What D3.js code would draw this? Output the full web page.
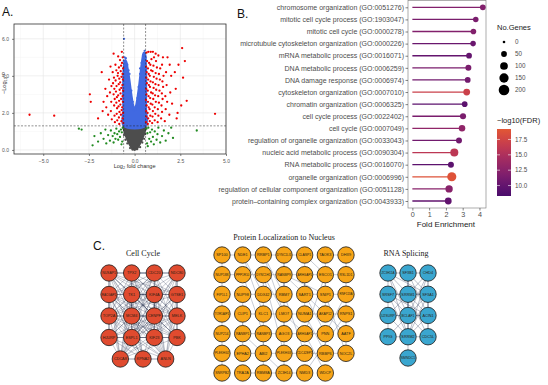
<!DOCTYPE html>
<html>
<head>
<meta charset="utf-8">
<script src="https://cdn.jsdelivr.net/npm/d3@7"></script>
<style>
  body { margin: 0; background: #fff; }
  svg { display: block; font-family: "Liberation Sans", Arial, sans-serif; }
</style>
</head>
<body>
<div id="figure"></div>
<script>
// ---------------- panel A : volcano ----------------
const fcCutoff = 0.6;
const pCutoff = 1.3;
const volcanoXTicks = [-5, -2.5, 0, 2.5, 5];
const volcanoYTicks = [0, 2, 4, 6];

// outlines of the two clouds that are too dense to show as single dots
const blueCloud = [[-0.6,1.3],[-0.62,2.2],[-0.63,3.2],[-0.62,4.1],[-0.58,4.6],[-0.52,4.85],[-0.45,4.75],[-0.38,4.4],[-0.3,3.9],[-0.22,3.3],[-0.14,2.75],[-0.06,2.35],[0.02,2.25],[0.1,2.5],[0.18,3.0],[0.26,3.6],[0.34,4.3],[0.42,4.9],[0.5,5.25],[0.57,5.2],[0.62,4.6],[0.63,3.5],[0.62,2.3],[0.6,1.3]];
const greyCloud = [[-0.6,1.3],[-0.56,1.0],[-0.46,0.7],[-0.34,0.42],[-0.22,0.2],[-0.1,0.05],[0,0],[0.1,0.05],[0.22,0.2],[0.34,0.42],[0.46,0.7],[0.56,1.0],[0.6,1.3]];

const bluePoints = [[-0.58,6.0],[-0.55,5.0],[-0.48,4.95],[-0.6,4.8],[-0.4,4.6],[-0.28,4.1],[-0.18,3.2],[-0.1,2.6],[0.05,2.2],[0.15,2.8],[0.22,3.4],[0.3,4.1],[0.38,4.7],[0.46,5.1],[0.55,5.35],[0.6,5.0],[0.3,4.4],[-0.33,4.3],[-0.05,2.15],[0.08,2.35]];
const greyPoints = [[-0.58,0.8],[-0.5,0.55],[0.52,0.6],[0.58,0.85],[-0.4,0.35],[0.42,0.4],[-0.25,0.1],[0.3,0.15],[-0.12,0.02],[0.14,0.04]];
const greenPoints = [[-0.65,1.2],[-0.7,0.95],[-0.75,1.1],[-0.8,0.7],[-0.85,1.0],[-0.9,0.55],[-0.95,0.85],[-1.0,1.15],[-1.05,0.6],[-1.1,0.9],[-1.15,0.4],[-1.2,0.75],[-1.3,1.05],[-1.35,0.5],[-1.45,0.8],[-1.55,0.35],[-1.6,1.1],[-1.7,0.6],[-1.85,0.9],[-2.0,0.45],[-2.2,0.75],[-2.3,0.25],[-2.9,1.1],[-3.05,1.15],[-0.68,0.45],[-0.72,0.3],
  [0.65,1.15],[0.7,0.9],[0.75,1.2],[0.8,0.6],[0.85,0.95],[0.9,0.45],[0.95,1.1],[1.0,0.7],[1.05,0.3],[1.1,1.0],[1.2,0.55],[1.25,0.85],[1.3,1.2],[1.4,0.4],[1.5,0.75],[1.6,1.05],[1.7,0.5],[1.85,0.9],[2.0,1.2],[2.1,0.65],[3.4,1.05],[0.68,0.35],[0.72,0.2]];
const redPoints = [
  [-0.62,1.45],[-0.65,1.7],[-0.63,2.0],[-0.68,2.3],[-0.64,2.6],[-0.66,2.9],[-0.63,3.2],[-0.67,3.5],[-0.64,3.8],[-0.66,4.1],[-0.63,4.4],[-0.69,4.7],[-0.65,5.0],
  [-0.72,1.55],[-0.75,1.9],[-0.71,2.15],[-0.78,2.45],[-0.74,2.75],[-0.77,3.05],[-0.73,3.35],[-0.79,3.65],[-0.72,3.95],[-0.76,4.25],[-0.74,4.55],[-0.8,4.85],
  [-0.84,1.4],[-0.86,1.75],[-0.83,2.05],[-0.88,2.35],[-0.85,2.65],[-0.9,2.95],[-0.82,3.25],[-0.87,3.55],[-0.84,3.85],[-0.91,4.15],[-0.86,4.45],[-0.93,4.0],
  [-0.95,1.6],[-0.98,1.95],[-0.96,2.25],[-1.0,2.55],[-0.97,2.85],[-1.02,3.15],[-0.99,3.45],[-1.04,3.75],[-1.0,4.3],[-1.05,4.6],
  [-1.08,1.5],[-1.1,1.85],[-1.12,2.4],[-1.09,2.75],[-1.15,3.0],[-1.11,3.3],[-1.18,3.6],[-1.13,3.9],[-1.2,4.2],
  [-1.25,1.65],[-1.3,2.1],[-1.28,2.6],[-1.35,3.1],[-1.27,3.45],[-1.4,3.8],[-1.32,4.5],
  [-1.45,1.9],[-1.5,2.9],[-1.55,2.3],[-1.6,3.3],[-1.75,2.1],[-1.8,4.2],[-1.7,2.6],
  [-2.45,3.0],[-2.4,2.6],[-2.0,1.7],[-5.75,1.9],[-4.4,1.85],[-0.9,5.05],[-1.15,5.2],[-0.7,5.3],
  [0.62,1.5],[0.64,1.8],[0.63,2.1],[0.66,2.4],[0.62,2.7],[0.65,3.0],[0.63,3.3],[0.67,3.6],[0.64,3.9],[0.66,4.2],[0.63,4.5],[0.68,4.8],[0.65,5.25],
  [0.72,1.4],[0.74,1.7],[0.71,2.0],[0.77,2.3],[0.73,2.6],[0.76,2.9],[0.72,3.2],[0.78,3.5],[0.74,3.8],[0.77,4.1],[0.73,4.4],[0.79,4.7],[0.75,5.3],
  [0.83,1.55],[0.86,1.85],[0.82,2.2],[0.88,2.5],[0.85,2.8],[0.9,3.1],[0.84,3.4],[0.87,3.7],[0.83,4.0],[0.9,4.3],[0.86,4.6],[0.92,4.9],[0.88,5.3],
  [0.96,1.45],[0.98,1.8],[1.0,2.1],[0.97,2.45],[1.02,2.75],[0.99,3.05],[1.04,3.35],[1.0,3.65],[1.05,3.95],[0.98,4.25],[1.03,4.55],[1.06,5.0],[1.0,5.3],
  [1.1,1.6],[1.13,1.95],[1.1,2.3],[1.16,2.6],[1.12,2.95],[1.18,3.25],[1.14,3.55],[1.2,3.85],[1.15,4.15],[1.22,4.45],[1.17,4.8],[1.15,5.2],
  [1.26,1.5],[1.3,1.85],[1.27,2.2],[1.33,2.55],[1.29,2.9],[1.36,3.2],[1.31,3.5],[1.38,3.8],[1.33,4.1],[1.4,4.4],[1.3,5.1],
  [1.45,1.7],[1.5,2.05],[1.47,2.4],[1.53,2.75],[1.49,3.05],[1.56,3.4],[1.52,3.7],[1.58,4.0],[1.5,4.6],[1.55,5.0],
  [1.65,1.55],[1.7,2.2],[1.68,2.9],[1.75,3.5],[1.72,4.2],[1.8,5.0],[1.78,2.6],
  [1.9,1.9],[1.95,3.1],[2.0,4.0],[1.92,4.6],[2.05,2.5],
  [2.2,4.2],[2.25,3.3],[2.35,2.0],[2.4,4.6],[2.3,1.7],
  [2.6,5.5],[2.65,3.9],[2.85,2.65],[2.55,2.4],[2.75,4.8],[4.4,1.95]];

// ---------------- panel B : GO lollipop ----------------
const goTerms = [
  "chromosome organization (GO:0051276)",
  "mitotic cell cycle process (GO:1903047)",
  "mitotic cell cycle (GO:0000278)",
  "microtubule cytoskeleton organization (GO:0000226)",
  "mRNA metabolic process (GO:0016071)",
  "DNA metabolic process (GO:0006259)",
  "DNA damage response (GO:0006974)",
  "cytoskeleton organization (GO:0007010)",
  "chromatin organization (GO:0006325)",
  "cell cycle process (GO:0022402)",
  "cell cycle (GO:0007049)",
  "regulation of organelle organization (GO:0033043)",
  "nucleic acid metabolic process (GO:0090304)",
  "RNA metabolic process (GO:0016070)",
  "organelle organization (GO:0006996)",
  "regulation of cellular component organization (GO:0051128)",
  "protein\u2013containing complex organization (GO:0043933)"
];
const foldEnrichment = [4.2, 3.78, 3.64, 3.62, 3.38, 3.34, 3.3, 3.24, 3.12, 3.02, 2.96, 2.78, 2.5, 2.3, 2.35, 2.19, 2.14];
const geneCount = [50, 45, 47, 45, 50, 55, 50, 75, 48, 58, 68, 55, 110, 55, 145, 90, 75];
const fdrLog = [12.0, 11.5, 12.0, 10.5, 10.0, 11.5, 11.0, 17.0, 9.5, 11.5, 13.0, 11.0, 16.0, 9.5, 18.8, 12.5, 9.8];
const foldTicks = [0, 1, 2, 3, 4];
const sizeLegend = [0, 50, 100, 150, 200];
const fdrLegendTicks = [10, 12.5, 15, 17.5];

// ---------------- panel C : networks ----------------
const cellCycleRows = [
  ["NUSAP1", "TPX2", "CDC20", "NDC80"],
  ["RACGAP1", "TK1", "KIF4A", "GTSE1"],
  ["TOP2A", "MCM4", "CENPF", "MELK"],
  ["HJURP", "ESPL1", "KIF23", "PBK"],
  ["CDCA8", "KPNA2", "ANLN"]
];
// neighbours (higher index only) of every cell cycle node
const cellCycleAdj = [
  [1,2,3,4,5,6,7,8,9,10,11,12,13,14,15,16,18],
  [2,3,4,5,6,7,8,9,10,11,13,14,15,16,17,18],
  [3,4,5,6,7,8,9,10,11,12,13,14,15,16,18],
  [4,6,7,8,10,11,13,14,15,16,18],
  [5,6,7,8,9,10,11,12,13,14,15,16,17,18],
  [6,7,8,9,10,11,12,13,14,15,16,17],
  [7,8,9,10,11,12,13,14,15,16,18],
  [8,10,11,13,14,15,16,18],
  [9,10,11,12,13,14,15,16,17,18],
  [10,11,12,13,14,15,16,17,18],
  [11,12,13,14,15,16,17,18],
  [12,13,14,15,16,18],
  [13,14,15,16,17,18],
  [14,15,16,17,18],
  [15,16,17,18],
  [16,18],
  [17,18],
  [18],
  []
];
const nucleusRows = [
  ["SP100", "NDE1", "RRBP1", "DYNC1LI1", "CLASP1", "TAOK3", "DHX9"],
  ["NUP188", "PPP1R10", "DYNC1H1", "RANBP9", "ARHGAP5", "ESCO1", "RSL1D1"],
  ["FIP1L1", "NUP98", "DDX42", "RBM7", "SART1", "SNIP1", "RNF113A"],
  ["TOR1AIP1", "CLIP1", "KLC1", "LMO7", "NUMA1", "AKAP12", "RNPS1"],
  ["NUP214", "RANBP1", "RANBP3", "AGO3", "ARHGAP1", "PNN", "AATF"],
  ["PLEKHG2", "EPHA2", "ABI2", "PLEKHG3", "CDC42EP1", "RBBP6", "NOC2L"],
  ["SNRPB2", "TRA2A", "RBM8A", "ZC3H14", "NMD3", "WDCP"]
];
const nucleusEdges = [
  [0,1],[1,2],[2,3],[3,4],[5,6],[7,8],[8,9],[9,10],[10,11],[11,12],[12,13],[15,16],[16,17],[18,19],[19,20],
  [22,23],[23,24],[24,25],[25,26],[26,27],[29,30],[30,31],[31,32],[32,33],[36,37],[37,38],[38,39],[39,40],[40,41],
  [43,44],[44,45],[45,46],[6,13],[13,20],[20,27],[27,34],[34,41],[0,7],[7,14],[14,21],[21,28],[28,35],[35,42],
  [9,16],[16,23],[10,17],[24,31],[31,38],[38,45],[33,40],[1,16],[2,24],[3,17],[9,24],[10,26],[4,18],[11,25],
  [12,32],[5,19],[8,30],[15,29],[17,39],[18,33],[22,36],[23,44],[25,40],[26,34],[27,46],[29,45],[30,37],[32,47],
  [19,41],[20,33],[11,18],[3,31],[9,38],[2,17],[12,26],[1,23],[4,12],[10,19],[24,32]
];
const splicingRows = [
  ["ZC3H11A", "SF3B1", "CHD4"],
  ["SRSF7", "SRRM1", "SF3A1"],
  ["U2SURP", "BCLAF1", "ACIN1"],
  ["PPIG", "SRRM2", "CDC5L"],
  ["SMNDC1"]
];
const splicingEdges = [
  [0,1],[1,2],[0,3],[1,4],[2,5],[3,4],[4,5],[3,6],[4,7],[5,8],[6,7],[7,8],[6,9],[7,10],[8,11],[9,10],[10,11],[10,12],
  [0,4],[0,7],[1,5],[1,7],[1,8],[2,4],[2,7],[3,7],[3,10],[4,6],[4,8],[4,10],[4,11],[5,7],[5,10],[6,10],[7,9],[7,11],
  [8,10],[0,10],[2,10],[1,10],[3,8],[6,8],[5,11],[3,5],[0,5],[2,8]
];

// ---------------- drawing ----------------
const width = 548, height = 385;
const svg = d3.select("#figure").append("svg")
    .attr("width", width)
    .attr("height", height);

function panelLabel(text, x, y) {
  svg.append("text").attr("x", x).attr("y", y)
      .attr("font-size", 12).attr("fill", "#111").text(text);
}

// ---- A ----
panelLabel("A.", 2, 16);
const volMargin = {left: 14, right: 226, top: 24, bottom: 154};
const vx = d3.scaleLinear().domain([-6.6, 5.0]).range([volMargin.left, volMargin.right]);
const vy = d3.scaleLinear().domain([-0.22, 6.8]).range([volMargin.bottom, volMargin.top]);
const gA = svg.append("g");

// minor and major grid
const minorX = d3.pairs(volcanoXTicks).map(p => (p[0] + p[1]) / 2).concat([-6.25]);
const minorY = d3.pairs(volcanoYTicks).map(p => (p[0] + p[1]) / 2);
gA.selectAll(".minorx").data(minorX).join("line")
    .attr("x1", d => vx(d)).attr("x2", d => vx(d))
    .attr("y1", volMargin.top).attr("y2", volMargin.bottom)
    .attr("stroke", "#f2f2f2").attr("stroke-width", 0.5);
gA.selectAll(".minory").data(minorY).join("line")
    .attr("y1", d => vy(d)).attr("y2", d => vy(d))
    .attr("x1", volMargin.left).attr("x2", volMargin.right)
    .attr("stroke", "#f2f2f2").attr("stroke-width", 0.5);
gA.selectAll(".majorx").data(volcanoXTicks).join("line")
    .attr("x1", d => vx(d)).attr("x2", d => vx(d))
    .attr("y1", volMargin.top).attr("y2", volMargin.bottom)
    .attr("stroke", "#e4e4e4").attr("stroke-width", 0.6);
gA.selectAll(".majory").data(volcanoYTicks).join("line")
    .attr("y1", d => vy(d)).attr("y2", d => vy(d))
    .attr("x1", volMargin.left).attr("x2", volMargin.right)
    .attr("stroke", "#e4e4e4").attr("stroke-width", 0.6);

const cloudLine = d3.line().x(d => vx(d[0])).y(d => vy(d[1])).curve(d3.curveCatmullRomClosed);
gA.append("path").datum(greyCloud).attr("d", cloudLine)
    .attr("fill", "#4d4d4d").attr("stroke", "#4d4d4d").attr("stroke-width", 2);
gA.append("path").datum(blueCloud).attr("d", cloudLine)
    .attr("fill", "#4169e1").attr("stroke", "#4169e1").attr("stroke-width", 2);

function dots(data, color) {
  gA.append("g").selectAll("circle").data(data).join("circle")
      .attr("cx", d => vx(d[0])).attr("cy", d => vy(d[1]))
      .attr("r", 1.15).attr("fill", color);
}
dots(greyPoints, "#4d4d4d");
dots(bluePoints, "#4169e1");
dots(greenPoints, "#228b22");
dots(redPoints, "#ee0000");

// cutoff lines
gA.selectAll(".vcut").data([-fcCutoff, fcCutoff]).join("line")
    .attr("x1", d => vx(d)).attr("x2", d => vx(d))
    .attr("y1", volMargin.top).attr("y2", volMargin.bottom)
    .attr("stroke", "#222").attr("stroke-width", 0.5).attr("stroke-dasharray", "2,1.5");
gA.append("line")
    .attr("x1", volMargin.left).attr("x2", volMargin.right)
    .attr("y1", vy(pCutoff)).attr("y2", vy(pCutoff))
    .attr("stroke", "#222").attr("stroke-width", 0.5).attr("stroke-dasharray", "2,1.5");

gA.append("rect")
    .attr("x", volMargin.left).attr("y", volMargin.top)
    .attr("width", volMargin.right - volMargin.left).attr("height", volMargin.bottom - volMargin.top)
    .attr("fill", "none").attr("stroke", "#333").attr("stroke-width", 0.8);

const axA = gA.append("g").attr("transform", `translate(0,${volMargin.bottom})`)
    .call(d3.axisBottom(vx).tickValues(volcanoXTicks).tickSize(2).tickFormat(d3.format(".1f")));
const ayA = gA.append("g").attr("transform", `translate(${volMargin.left},0)`)
    .call(d3.axisLeft(vy).tickValues(volcanoYTicks).tickSize(2));
[axA, ayA].forEach(a => {
  a.select(".domain").remove();
  a.selectAll("line").attr("stroke", "#333").attr("stroke-width", 0.6);
  a.selectAll("text").attr("font-size", 5).attr("fill", "#555").attr("font-family", "Liberation Sans, Arial, sans-serif");
});
axA.selectAll("text").text(d => d3.format(".1f")(d).replace("-", "\u2212"));

const xlabA = gA.append("text").attr("x", vx(0)).attr("y", 168)
    .attr("text-anchor", "middle").attr("font-size", 5.6).attr("fill", "#333");
xlabA.append("tspan").text("Log");
xlabA.append("tspan").attr("font-size", 3.8).attr("dy", 1.3).text("2");
xlabA.append("tspan").attr("dy", -1.3).text(" fold change");
const ylabA = gA.append("text").attr("transform", "translate(6,83) rotate(-90)")
    .attr("text-anchor", "middle").attr("font-size", 5.6).attr("fill", "#333");
ylabA.append("tspan").text("\u2212Log");
ylabA.append("tspan").attr("font-size", 3.8).attr("dy", 1.3).text("10");
ylabA.append("tspan").attr("dy", -1.3).attr("font-style", "italic").text(" P");

// ---- B ----
panelLabel("B.", 237, 18);
const lol = {left: 408, right: 486, top: 0.5, bottom: 208};
const bx = d3.scaleLinear().domain([-0.26, 4.39]).range([lol.left, lol.right]);
const by = d3.scalePoint().domain(goTerms).range([7.3, 201]);
const sizeScale = d3.scaleLinear().domain([0, 200]).range([1.7, 28]);
const radius = n => Math.sqrt(sizeScale(n));
const fdrColor = d3.scaleSequential(t => d3.interpolateInferno(0.22 + 0.4 * t)).domain([8.3, 19.2]);
const gB = svg.append("g");
const lolData = goTerms.map((t, i) => ({term: t, fold: foldEnrichment[i], n: geneCount[i], fdr: fdrLog[i]}));

gB.append("rect").attr("x", lol.left).attr("y", lol.top)
    .attr("width", lol.right - lol.left).attr("height", lol.bottom - lol.top)
    .attr("fill", "none").attr("stroke", "#777").attr("stroke-width", 0.6);
gB.selectAll(".stem").data(lolData).join("line")
    .attr("x1", bx(0)).attr("x2", d => bx(d.fold))
    .attr("y1", d => by(d.term)).attr("y2", d => by(d.term))
    .attr("stroke", d => fdrColor(d.fdr)).attr("stroke-width", 1.3);
gB.selectAll(".head").data(lolData).join("circle")
    .attr("cx", d => bx(d.fold)).attr("cy", d => by(d.term))
    .attr("r", d => radius(d.n)).attr("fill", d => fdrColor(d.fdr));

const ayB = gB.append("g").attr("transform", `translate(${lol.left},0)`)
    .call(d3.axisLeft(by).tickSize(2.5).tickPadding(1.5));
const axB = gB.append("g").attr("transform", `translate(0,${lol.bottom})`)
    .call(d3.axisBottom(bx).tickValues(foldTicks).tickFormat(d3.format("d")).tickSize(2.5).tickPadding(1));
[axB, ayB].forEach(a => {
  a.select(".domain").remove();
  a.selectAll("line").attr("stroke", "#333").attr("stroke-width", 0.6);
  a.selectAll("text").attr("font-family", "Liberation Sans, Arial, sans-serif").attr("fill", "#4d4d4d");
});
ayB.selectAll("text").attr("font-size", 7);
axB.selectAll("text").attr("font-size", 7.2);
gB.append("text").attr("x", bx(2)).attr("y", 227).attr("text-anchor", "middle")
    .attr("font-size", 8).attr("fill", "#1a1a1a").text("Fold Enrichment");

// legends
const legX = 497;
gB.append("text").attr("x", legX).attr("y", 30).attr("font-size", 7.5).attr("fill", "#1a1a1a").text("No.Genes");
const sizeY = d3.scalePoint().domain(sizeLegend).range([42, 90]);
const sizeLeg = gB.append("g").selectAll("g").data(sizeLegend).join("g")
    .attr("transform", d => `translate(${legX + 7},${sizeY(d)})`);
sizeLeg.append("circle").attr("r", d => radius(d)).attr("fill", "#000");
sizeLeg.append("text").attr("x", 11).attr("dy", "0.35em").attr("font-size", 6.3).attr("fill", "#4d4d4d").text(d => d);

gB.append("text").attr("x", legX).attr("y", 123).attr("font-size", 7.5).attr("fill", "#1a1a1a").text("\u2212log10(FDR)");
const barY = d3.scaleLinear().domain([8.3, 19.2]).range([196, 129]);
const grad = svg.append("defs").append("linearGradient").attr("id", "fdrGrad")
    .attr("x1", 0).attr("x2", 0).attr("y1", 1).attr("y2", 0);
grad.selectAll("stop").data(d3.range(0, 1.001, 0.1)).join("stop")
    .attr("offset", d => d)
    .attr("stop-color", d => fdrColor(8.3 + d * (19.2 - 8.3)));
gB.append("rect").attr("x", legX).attr("y", barY(19.2)).attr("width", 14)
    .attr("height", barY(8.3) - barY(19.2)).attr("fill", "url(#fdrGrad)");
const barTicks = gB.append("g").selectAll("g").data(fdrLegendTicks).join("g")
    .attr("transform", d => `translate(0,${barY(d)})`);
barTicks.append("line").attr("x1", legX).attr("x2", legX + 3).attr("stroke", "#fff").attr("stroke-width", 0.6);
barTicks.append("line").attr("x1", legX + 11).attr("x2", legX + 14).attr("stroke", "#fff").attr("stroke-width", 0.6);
barTicks.append("text").attr("x", legX + 18).attr("dy", "0.35em").attr("font-size", 6.3)
    .attr("fill", "#4d4d4d").text(d => d3.format(".1f")(d));

// ---- C ----
panelLabel("C.", 93, 250);

function drawNetwork(rows, edges, o) {
  const ncol = d3.max(rows, r => r.length);
  const x = d3.scaleLinear().domain([0, ncol - 1]).range(o.xRange);
  const y = d3.scaleLinear().domain([0, rows.length - 1]).range(o.yRange);
  const nodes = [];
  rows.forEach((r, ri) => {
    const shift = o.align === "center" ? (ncol - r.length) / 2 : 0;
    r.forEach((name, ci) => nodes.push({name, x: x(ci + shift), y: y(ri)}));
  });
  const g = svg.append("g");
  g.append("g").selectAll("line").data(edges).join("line")
      .attr("x1", d => nodes[d[0]].x).attr("y1", d => nodes[d[0]].y)
      .attr("x2", d => nodes[d[1]].x).attr("y2", d => nodes[d[1]].y)
      .attr("stroke", o.edge).attr("stroke-opacity", o.edgeOpacity).attr("stroke-width", o.edgeWidth);
  const node = g.append("g").selectAll("g").data(nodes).join("g")
      .attr("transform", d => `translate(${d.x},${d.y})`);
  node.append("circle").attr("r", 8.2).attr("fill", o.fill).attr("stroke", "#1a1a1a").attr("stroke-width", 0.8);
  node.append("text").attr("text-anchor", "middle").attr("dy", "0.35em")
      .attr("font-size", d => d.name.length > 6 ? 3.0 : d.name.length > 5 ? 3.4 : 3.8)
      .attr("fill", "#2a1f14").text(d => d.name);
  svg.append("text").attr("x", o.titleX).attr("y", o.titleY).attr("text-anchor", "middle")
      .attr("font-family", "Liberation Serif, Times New Roman, serif")
      .attr("font-size", 8).attr("fill", "#222").text(o.title);
}

const cellCycleEdges = cellCycleAdj.flatMap((nb, i) => nb.map(j => [i, j]));
drawNetwork(cellCycleRows, cellCycleEdges, {
  xRange: [109, 177], yRange: [273, 359], align: "center", fill: "#e04b2f",
  edge: "#2f3b57", edgeOpacity: 0.55, edgeWidth: 0.5,
  title: "Cell Cycle", titleX: 143, titleY: 256
});
drawNetwork(nucleusRows, nucleusEdges, {
  xRange: [222, 346], yRange: [255, 373], align: "left", fill: "#f7a416",
  edge: "#6f7890", edgeOpacity: 0.55, edgeWidth: 0.7,
  title: "Protein Localization to Nucleus", titleX: 284, titleY: 240
});
drawNetwork(splicingRows, splicingEdges, {
  xRange: [388, 428], yRange: [273, 358], align: "center", fill: "#3aa6cf",
  edge: "#4f5a75", edgeOpacity: 0.55, edgeWidth: 0.7,
  title: "RNA Splicing", titleX: 406, titleY: 256
});
</script>
</body>
</html>
